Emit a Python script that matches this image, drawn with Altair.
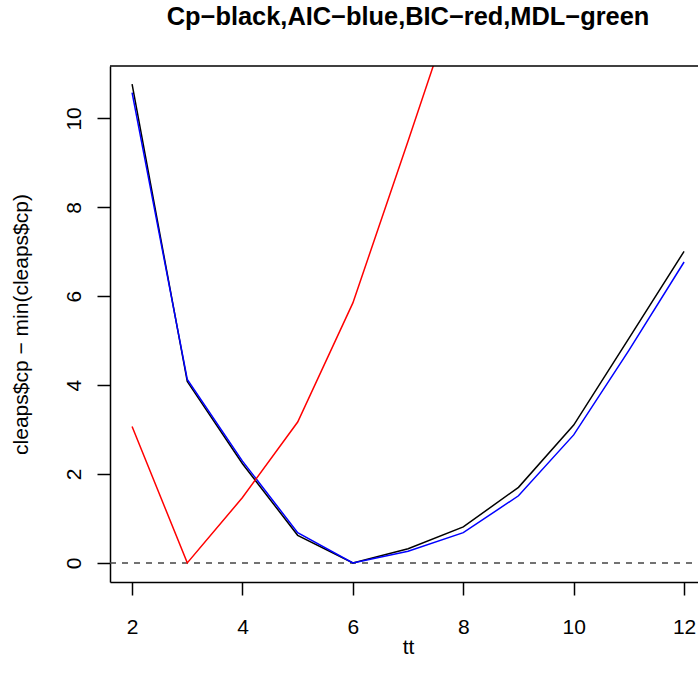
import altair as alt
import pandas as pd

# ---- data ----
tt = [2, 3, 4, 5, 6, 7, 8, 9, 10, 11, 12]
cp_vals = [10.77, 4.08, 2.23, 0.62, 0.0, 0.32, 0.81, 1.70, 3.10, 5.05, 7.01]
aic_vals = [10.58, 4.13, 2.29, 0.68, 0.0, 0.26, 0.68, 1.51, 2.88, 4.78, 6.77]
bic_tt = [2, 3, 4, 5, 6, 7, 8]
bic_vals = [3.07, 0.0, 1.47, 3.17, 5.85, 9.49, 13.2]
x_ticks = [2, 4, 6, 8, 10, 12]
y_ticks = [0, 2, 4, 6, 8, 10]

FONT = "Liberation Sans"
W, H = 588, 516

cp_df = pd.DataFrame({"tt": tt, "v": cp_vals})
aic_df = pd.DataFrame({"tt": tt, "v": aic_vals})
bic_df = pd.DataFrame({"tt": bic_tt, "v": bic_vals})

xscale = alt.Scale(domain=[1.6, 12.252], nice=False, zero=False)
yscale = alt.Scale(domain=[-0.43, 11.18], nice=False, zero=False)

xaxis = alt.Axis(values=x_ticks, title="tt", grid=False, labelBaseline="alphabetic",
                 labelPadding=38, titleBaseline="alphabetic", titleX=298, titleY=71,
                 titleAlign="center", labelFlush=False)
yaxis = alt.Axis(values=y_ticks, title="cleaps$cp − min(cleaps$cp)", grid=False,
                 labelAngle=-90, labelAlign="center", labelBaseline="alphabetic",
                 labelPadding=17, titleAngle=-90, titleAlign="center",
                 titleBaseline="alphabetic", titleX=-83, titleY=258, labelFlush=False)


def line(df, color):
    return alt.Chart(df).mark_line(color=color, strokeWidth=1.5, clip=True).encode(
        x=alt.X("tt:Q", scale=xscale, axis=xaxis),
        y=alt.Y("v:Q", scale=yscale, axis=yaxis),
    )


zero_rule = alt.Chart(pd.DataFrame({"z": [0]})).mark_rule(
    color="#444444", strokeDash=[6, 6], strokeWidth=1.5
).encode(y=alt.Y("z:Q", scale=yscale, axis=yaxis), x=alt.value(0), x2=alt.value(W))

top_rule = alt.Chart(pd.DataFrame({"z": [0]})).mark_rule(
    color="black", strokeWidth=1.5
).encode(y=alt.value(0), x=alt.value(0), x2=alt.value(W))

chart = alt.layer(
    zero_rule,
    line(cp_df, "#000000"),
    line(aic_df, "#0000FF"),
    line(bic_df, "#FF0000"),
    top_rule,
).properties(
    width=W,
    height=H,
    background="white",
    title=alt.TitleParams(
        "Cp−black,AIC−blue,BIC−red,MDL−green",
        fontSize=25.4, fontWeight="bold", font=FONT, anchor="middle", dx=4,
        offset=15, baseline="alphabetic", frame="group", color="black",
    ),
    autosize=alt.AutoSizeParams(type="none"),
    padding={"left": 110, "top": 66, "right": 0, "bottom": 105},
).configure_view(stroke=None).configure_axis(
    labelFont=FONT, labelFontSize=21, labelColor="black",
    titleFont=FONT, titleFontSize=21, titleFontWeight="normal", titleColor="black",
    tickColor="black", tickWidth=1.5, tickSize=13,
    domainColor="black", domainWidth=1.5,
)

chart.save("out.html", embed_options={"renderer": "svg", "actions": False})
